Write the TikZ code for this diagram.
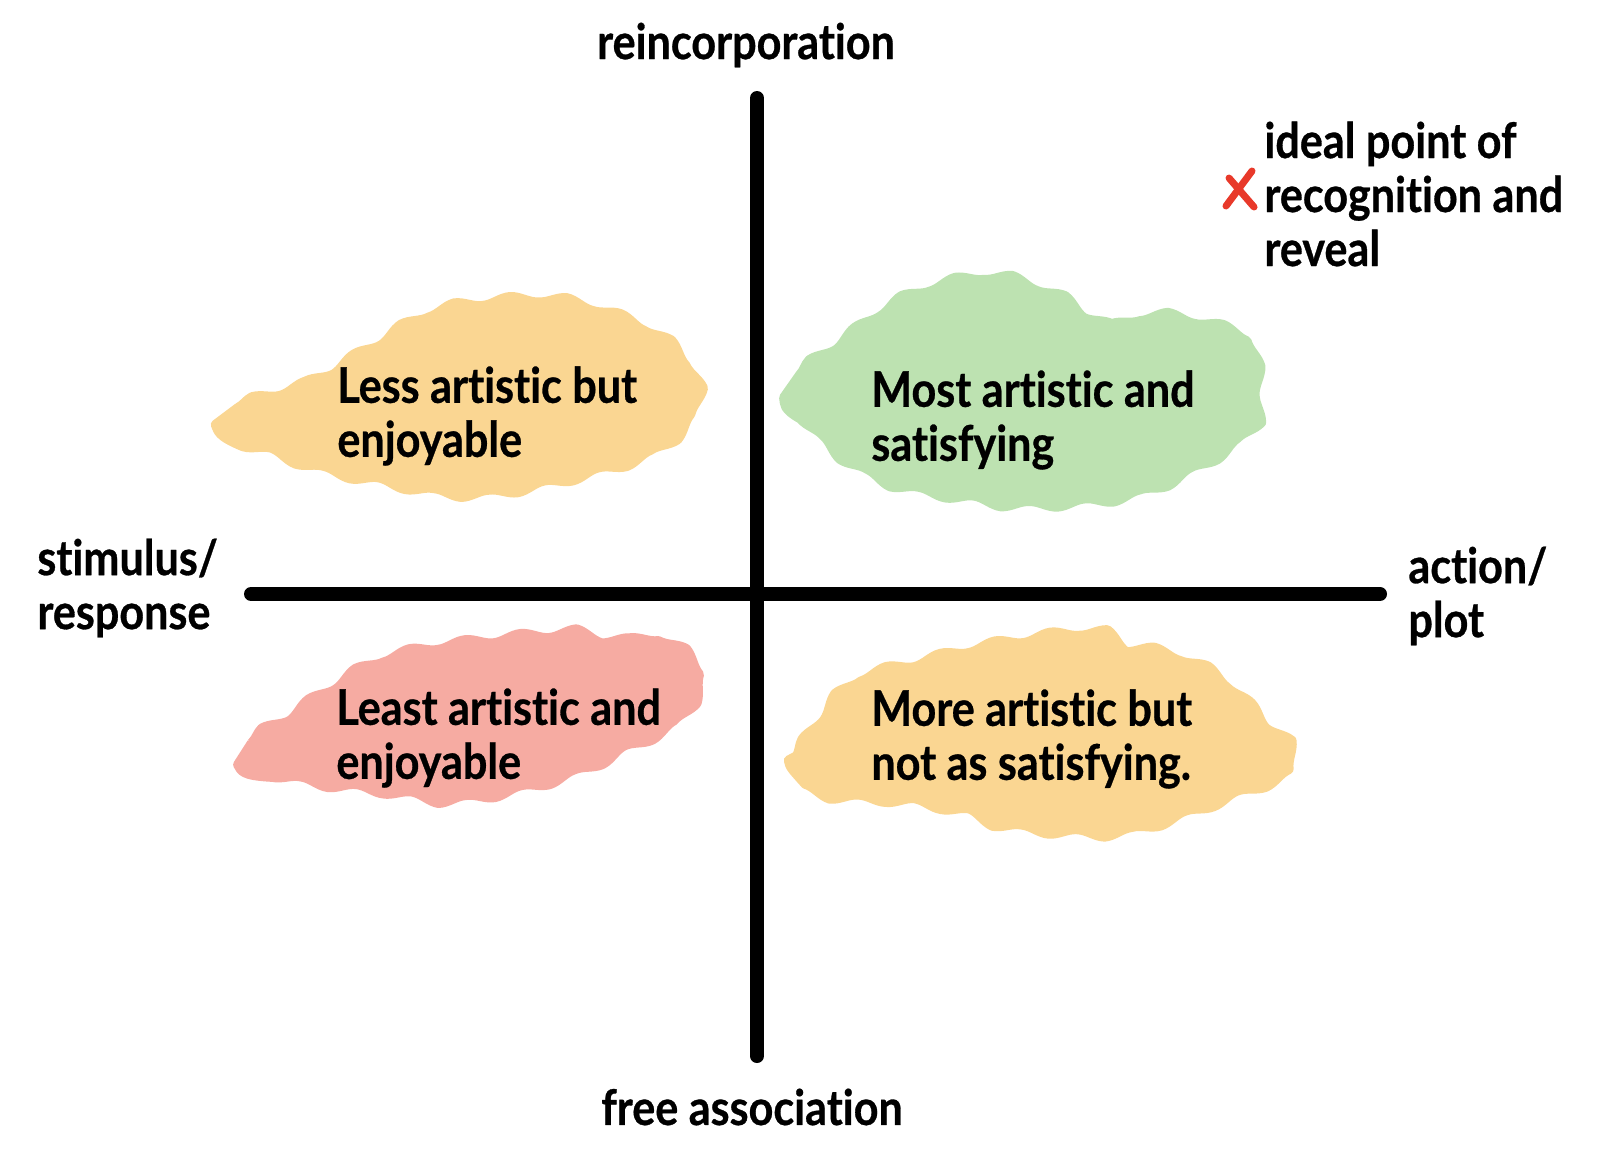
\documentclass[tikz,border=0pt]{standalone}
\usepackage{fontspec}
\usetikzlibrary{decorations.pathmorphing}
\setmainfont{Lato}[BoldFeatures={FakeStretch=0.88,FakeBold=0.6,RawFeature=-liga}]
\definecolor{yel}{RGB}{250,214,146}
\definecolor{grn}{RGB}{189,226,177}
\definecolor{rd}{RGB}{246,171,162}
\definecolor{xred}{RGB}{232,57,42}
\begin{document}
\begin{tikzpicture}[x=0.5pt,y=-0.5pt,
  lbl/.style={font=\fontsize{24.5pt}{27pt}\selectfont\bfseries, inner sep=0pt, align=left, text=black},
  axis/.style={line width=7pt, line cap=round, black},
  blob/.style={line width=5pt, line join=round, decorate, decoration={snake, segment length=28pt, amplitude=1.6pt}}]
\useasboundingbox (0,0) rectangle (1600,1173);
% blobs
\filldraw[blob, yel] plot[smooth cycle, tension=0.6] coordinates {
 (222,428) (238,408) (300,388) (360,353) (410,323) (460,310) (543,306) (610,324) (658,350) (686,390) (678,428) (648,455) (610,472) (510,496) (443,501) (377,490) (310,476) (258,458) (228,447)};
\filldraw[blob, grn] plot[smooth cycle, tension=0.6] coordinates {
 (788,398) (800,375) (830,353) (897,307) (980,286) (1047,305) (1097,335) (1147,325) (1213,338) (1242,358) (1246,413) (1238,443) (1180,482) (1113,508) (1013,516) (947,508) (880,495) (830,468) (798,437) (788,418)};
\filldraw[blob, rd] plot[smooth cycle, tension=0.6] coordinates {
 (244,762) (252,743) (280,726) (313,703) (363,672) (413,658) (463,651) (530,644) (580,642) (600,658) (647,655) (680,678) (685,703) (661,737) (613,762) (563,786) (497,805) (430,814) (380,806) (313,798) (260,788) (245,775)};
\filldraw[blob, yel] plot[smooth cycle, tension=0.6] coordinates {
 (791,775) (797,756) (810,740) (817,718) (847,689) (913,671) (980,655) (1080,642) (1113,657) (1163,664) (1213,688) (1262,737) (1287,760) (1278,780) (1213,806) (1163,825) (1113,838) (1063,838) (997,831) (963,818) (897,806) (830,802) (800,794)};
% axes
\coordinate (vtop) at (757,98);
\coordinate (vbot) at (757,1056);
\coordinate (hl) at (251,594);
\coordinate (hr) at (1380,594);
\draw[axis] (vtop) -- (vbot);
\draw[axis] (hl) -- (hr);
% axis labels
\node[lbl] (top) at (746,45) {reincorporation};
\node[lbl] (bot) at (752,1107) {free association};
\node[lbl, anchor=west] (left) at (37,588) {stimulus/\\response};
\node[lbl, anchor=west] (right) at (1408,596) {action/\\plot};
\node[lbl, anchor=west] (ideal) at (1264,194) {ideal point of\\recognition and\\reveal};
% red X
\coordinate (xa) at (1226,206);
\coordinate (xb) at (1252,171);
\coordinate (xc) at (1229,178);
\coordinate (xd) at (1254,207);
\draw[xred, line width=3.5pt, line cap=round] (xa) -- (xb);
\draw[xred, line width=3.5pt, line cap=round] (xc) -- (xd);
% quadrant labels
\node[lbl, anchor=west] (q1) at (337,416) {Less artistic but\\enjoyable};
\node[lbl, anchor=west] (q2) at (871,420) {Most artistic and\\satisfying};
\node[lbl, anchor=west] (q3) at (336,738) {Least artistic and\\enjoyable};
\node[lbl, anchor=west] (q4) at (871,739) {More artistic but\\not as satisfying.};
\end{tikzpicture}
\end{document}
